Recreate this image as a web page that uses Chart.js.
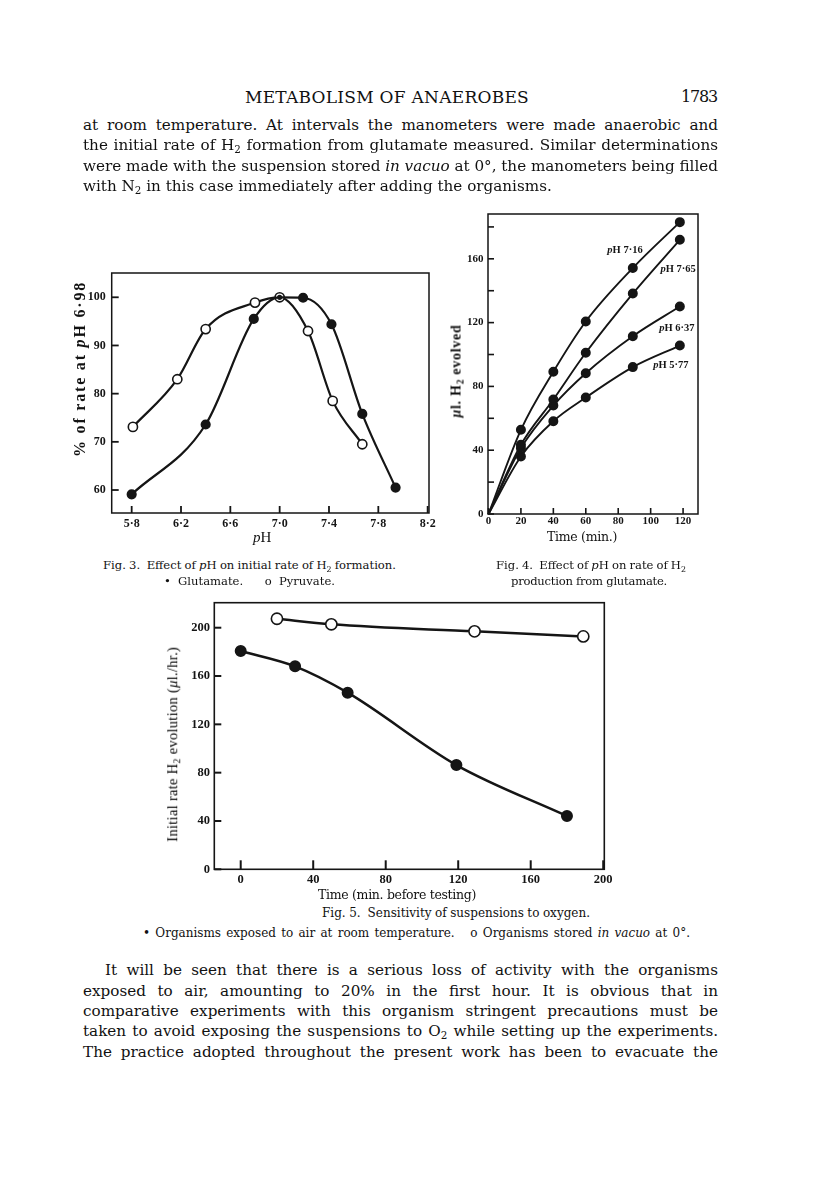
<!DOCTYPE html>
<html><head><meta charset="utf-8">
<script src="https://cdn.jsdelivr.net/npm/chart.js@4.4.1/dist/chart.umd.min.js"></script>
<style>
html,body{margin:0;padding:0;background:#fff;}
body{width:816px;height:1195px;position:relative;overflow:hidden;color:#111;}
.t{position:absolute;white-space:nowrap;line-height:1;display:inline-block;}
canvas{position:absolute;}
sub{font-size:0.68em;vertical-align:baseline;position:relative;top:0.32em;line-height:0;}
</style></head>
<body>
<canvas id="fig3" width="410" height="300" style="left:40px;top:255px"></canvas>
<canvas id="fig4" width="290" height="341" style="left:430px;top:195px"></canvas>
<canvas id="fig5" width="475" height="305" style="left:150px;top:585px"></canvas>
<script>
// ---------- Fig. 3 data ----------
const fig3XTicks = [5.8, 6.2, 6.6, 7.0, 7.4, 7.8, 8.2];
const fig3XTickLabels = ['5·8', '6·2', '6·6', '7·0', '7·4', '7·8', '8·2'];
const fig3YTicks = [60, 70, 80, 90, 100];
const glutamatePH = [5.80, 6.40, 6.79, 7.00, 7.19, 7.42, 7.67, 7.94];
const glutamateRate = [59.1, 73.6, 95.5, 100, 99.9, 94.4, 75.8, 60.5];
const pyruvatePH = [5.81, 6.17, 6.40, 6.80, 7.00, 7.23, 7.43, 7.67];
const pyruvateRate = [73.1, 83.0, 93.4, 98.9, 100, 93.0, 78.5, 69.5];

// ---------- Fig. 4 data ----------
const fig4Times = [0, 20, 40, 60, 89, 118];
const pH716 = [0, 52.8, 89.2, 120.7, 154.2, 183.0];
const pH765 = [0, 43.4, 71.8, 101.1, 138.2, 171.9];
const pH637 = [0, 41.3, 68.0, 88.3, 111.5, 130.1];
const pH577 = [0, 36.1, 58.2, 73.0, 92.1, 105.6];
const fig4SeriesNames = ['7·16', '7·65', '6·37', '5·77'];
const fig4XTicks = [0, 20, 40, 60, 80, 100, 120];
const fig4YTicks = [0, 20, 40, 60, 80, 100, 120, 140, 160, 180];
const fig4YTickLabels = ['0', '', '40', '', '80', '', '120', '', '160', ''];

// ---------- Fig. 5 data ----------
const airTime = [0, 30, 59, 119, 180];
const airRate = [180.7, 168.0, 146.2, 86.3, 44.1];
const vacuoTime = [20, 50, 129, 189];
const vacuoRate = [207.4, 202.8, 197.0, 192.8];
const fig5XTicks = [0, 40, 80, 120, 160, 200];
const fig5YTicks = [0, 40, 80, 120, 160, 200];

const INK = '#151515';
const pts = (xs, ys) => xs.map((x, i) => ({x, y: ys[i]}));

const framePlugin = {
  id: 'frame',
  beforeDatasetsDraw(chart, args, o) {
    const {ctx, chartArea: a, scales} = chart;
    ctx.save();
    ctx.strokeStyle = INK;
    ctx.lineWidth = o.lw;
    ctx.strokeRect(a.left, a.top, a.right - a.left, a.bottom - a.top);
    ctx.lineWidth = o.tw;
    scales.x.ticks.forEach((t, i) => {
      const p = scales.x.getPixelForTick(i);
      ctx.beginPath(); ctx.moveTo(p, a.bottom); ctx.lineTo(p, a.bottom - o.xLen); ctx.stroke();
    });
    scales.y.ticks.forEach((t, i) => {
      const p = scales.y.getPixelForTick(i);
      ctx.beginPath(); ctx.moveTo(a.left, p); ctx.lineTo(a.left + o.yLen, p); ctx.stroke();
    });
    ctx.restore();
  }
};

const labelPlugin = {
  id: 'seriesLabels',
  afterDatasetsDraw(chart, args, o) {
    if (!o.items) return;
    const {ctx, scales: {x, y}} = chart;
    ctx.save();
    ctx.fillStyle = INK;
    ctx.textBaseline = 'middle';
    o.items.forEach(it => {
      let px = x.getPixelForValue(it.x), py = y.getPixelForValue(it.y);
      ctx.font = 'italic bold 10.5px "Liberation Serif"';
      ctx.fillText('p', px, py);
      px += ctx.measureText('p').width;
      ctx.font = 'bold 10.5px "Liberation Serif"';
      ctx.fillText('H ' + it.text, px, py);
    });
    ctx.restore();
  }
};

function axis(c) {
  return {
    type: 'linear', min: c.min, max: c.max,
    grid: {display: false, drawTicks: false},
    border: {display: false},
    ticks: {
      color: INK, padding: c.pad, autoSkip: false, maxRotation: 0,
      font: {family: 'Liberation Serif', size: c.fs, weight: 'bold'},
      callback: (v, i) => c.labels[i]
    },
    afterBuildTicks: s => { s.ticks = c.ticks.map(v => ({value: v})); },
    afterFit: s => { if (c.w !== undefined) s.width = c.w; if (c.h !== undefined) s.height = c.h; }
  };
}

function makeChart(id, c) {
  return new Chart(document.getElementById(id), {
    type: 'line',
    data: {datasets: c.datasets},
    options: {
      responsive: false, animation: false, devicePixelRatio: 1,
      layout: {padding: c.padding},
      elements: {line: {cubicInterpolationMode: 'monotone'}},
      plugins: {legend: {display: false}, tooltip: {enabled: false},
                frame: c.frame, seriesLabels: {items: c.labels || null}},
      scales: {x: axis(c.x), y: axis(c.y)}
    },
    plugins: [framePlugin, labelPlugin]
  });
}

function ds(data, filled, r, bw, extra) {
  return Object.assign({
    data, borderColor: INK, borderWidth: bw, clip: false,
    pointRadius: r, pointBorderWidth: 1.6, pointBorderColor: INK,
    pointBackgroundColor: filled ? INK : '#fff', fill: false
  }, extra || {});
}

// Fig. 3
makeChart('fig3', {
  padding: {top: 18, right: 21, left: 0, bottom: 0},
  frame: {lw: 1.5, tw: 1.8, xLen: 7, yLen: 7},
  x: {min: 5.638, max: 8.211, ticks: fig3XTicks, labels: fig3XTickLabels, fs: 12, pad: 4, h: 42},
  y: {min: 55.23, max: 105.04, ticks: fig3YTicks, labels: fig3YTicks.map(String), fs: 12, pad: 6, w: 71.7},
  datasets: [
    ds(pts(glutamatePH, glutamateRate), true, glutamatePH.map(v => v === 7.0 ? 1.8 : 4.3), 2.2),
    ds(pts(pyruvatePH, pyruvateRate), false, 4.6, 2.2)
  ]
});

// Fig. 4
const fig4Series = [pH716, pH765, pH637, pH577];
makeChart('fig4', {
  padding: {top: 19, right: 22, left: 0, bottom: 0},
  frame: {lw: 1.5, tw: 1.6, xLen: 6, yLen: 6},
  x: {min: -0.3, max: 129.2, ticks: fig4XTicks, labels: fig4XTicks.map(String), fs: 11, pad: 1, h: 22},
  y: {min: 0, max: 188.1, ticks: fig4YTicks, labels: fig4YTickLabels, fs: 11, pad: 4.5, w: 58},
  datasets: fig4Series.map(s => ds(pts(fig4Times, s), true, fig4Times.map(t => t === 0 ? 0 : 4.2), 1.9)),
  labels: [
    {x: 73.3, y: 165.4, text: fig4SeriesNames[0]},
    {x: 106.1, y: 153.7, text: fig4SeriesNames[1]},
    {x: 105.3, y: 116.7, text: fig4SeriesNames[2]},
    {x: 101.6, y: 93.1, text: fig4SeriesNames[3]}
  ]
});

// Fig. 5
makeChart('fig5', {
  padding: {top: 17.7, right: 20.7, left: 0, bottom: 0},
  frame: {lw: 1.6, tw: 2, xLen: 9, yLen: 7},
  x: {min: -14.57, max: 200.6, ticks: fig5XTicks, labels: fig5XTicks.map(String), fs: 12.5, pad: 3, h: 20.7},
  y: {min: 0, max: 220.7, ticks: fig5YTicks, labels: fig5YTicks.map(String), fs: 12.5, pad: 4.3, w: 64.3},
  datasets: [
    ds(pts(airTime, airRate), true, 5.2, 2.5),
    ds(pts(vacuoTime, vacuoRate), false, 5.6, 2.5)
  ]
});

// ---------- Text ----------
const SERIF = '"DejaVu Serif", serif';
const TIMES = '"Liberation Serif", serif';
const B = 15.2;
const texts = [
  {h: 'METABOLISM OF ANAEROBES', x: 245, y: 97, w: 284, fs: 17, f: SERIF, m: 'letter'},
  {h: '1783', x: 681, y: 97, w: 36, fs: 16, f: SERIF, m: 'letter'},
  {h: 'at room temperature. At intervals the manometers were made anaerobic and', x: 83, y: 125, w: 635, fs: B, f: SERIF, m: 'word'},
  {h: 'the initial rate of H<sub>2</sub> formation from glutamate measured. Similar determinations', x: 83, y: 145, w: 635, fs: B, f: SERIF, m: 'word'},
  {h: 'were made with the suspension stored <i>in vacuo</i> at 0°, the manometers being filled', x: 83, y: 166, w: 635, fs: B, f: SERIF, m: 'word'},
  {h: 'with N<sub>2</sub> in this case immediately after adding the organisms.', x: 83, y: 186, fs: B, f: SERIF, m: 'none'},

  {h: 'Fig. 3.&nbsp; Effect of <i>p</i>H on initial rate of H<sub>2</sub> formation.', x: 103, y: 566, w: 293, fs: 11.6, f: SERIF, m: 'word'},
  {h: '•&nbsp;Glutamate.&nbsp;&nbsp; o&nbsp;Pyruvate.', x: 164, y: 582, w: 171, fs: 11.6, f: SERIF, m: 'word'},
  {h: 'Fig. 4.&nbsp; Effect of <i>p</i>H on rate of H<sub>2</sub>', x: 496, y: 566, w: 190, fs: 11.6, f: SERIF, m: 'word'},
  {h: 'production from glutamate.', x: 511, y: 582, w: 156, fs: 11.6, f: SERIF, m: 'letter'},
  {h: 'Fig. 5.&nbsp; Sensitivity of suspensions to oxygen.', x: 322, y: 913, w: 268, fs: 12, f: SERIF, m: 'word'},
  {h: '•&nbsp;Organisms exposed to air at room temperature.&nbsp;&nbsp; o&nbsp;Organisms stored <i>in vacuo</i> at 0°.', x: 143, y: 933, w: 547, fs: 12, f: SERIF, m: 'word'},

  {h: 'It will be seen that there is a serious loss of activity with the organisms', x: 105, y: 970, w: 613, fs: B, f: SERIF, m: 'word'},
  {h: 'exposed to air, amounting to 20% in the first hour. It is obvious that in', x: 83, y: 991, w: 635, fs: B, f: SERIF, m: 'word'},
  {h: 'comparative experiments with this organism stringent precautions must be', x: 83, y: 1011, w: 635, fs: B, f: SERIF, m: 'word'},
  {h: 'taken to avoid exposing the suspensions to O<sub>2</sub> while setting up the experiments.', x: 83, y: 1031, w: 635, fs: B, f: SERIF, m: 'word'},
  {h: 'The practice adopted throughout the present work has been to evacuate the', x: 83, y: 1052, w: 635, fs: B, f: SERIF, m: 'word'},

  // axis titles
  {h: '<i>p</i>H', cx: 262, y: 537, fs: 15, f: TIMES, m: 'none'},
  {h: '% of rate at <i>p</i>H 6·98', cx: 80, y: 369, w: 176, fs: 16, f: TIMES, m: 'letter', rot: true, bold: true},
  {h: 'Time (min.)', cx: 582, y: 537, w: 70, fs: 12.5, f: SERIF, m: 'letter'},
  {h: '<i>μ</i>l. H<sub>2</sub> evolved', cx: 456, y: 371, w: 93, fs: 14, f: TIMES, m: 'letter', rot: true, bold: true},
  {h: 'Time (min. before testing)', cx: 397, y: 895, w: 158, fs: 12.5, f: SERIF, m: 'letter'},
  {h: 'Initial rate H<sub>2</sub> evolution (<i>μ</i>l./hr.)', cx: 172, y: 744, w: 195, fs: 14.5, f: TIMES, m: 'letter', rot: true, color: '#000'}
];

texts.forEach(t => {
  const el = document.createElement('span');
  el.className = 't';
  el.innerHTML = t.h;
  el.style.fontFamily = t.f;
  el.style.fontSize = t.fs + 'px';
  if (t.bold) el.style.fontWeight = 'bold';
  if (t.color) el.style.color = t.color;
  document.body.appendChild(el);
  const nat = el.getBoundingClientRect().width;
  if (t.w) {
    if (t.m === 'word') {
      const n = (el.textContent.match(/[ \u00a0]/g) || []).length;
      if (n) el.style.wordSpacing = ((t.w - nat) / n) + 'px';
    } else if (t.m === 'letter') {
      const n = el.textContent.length;
      el.style.letterSpacing = ((t.w - nat) / n) + 'px';
    }
  }
  const W = el.offsetWidth, H = el.offsetHeight;
  if (t.rot) {
    el.style.left = (t.cx - W / 2) + 'px';
    el.style.top = (t.y - H / 2) + 'px';
    el.style.transform = 'rotate(-90deg)';
  } else {
    const left = t.cx !== undefined ? t.cx - W / 2 : t.x;
    el.style.left = left + 'px';
    el.style.top = (t.y - H / 2) + 'px';
  }
});
</script>
</body></html>
